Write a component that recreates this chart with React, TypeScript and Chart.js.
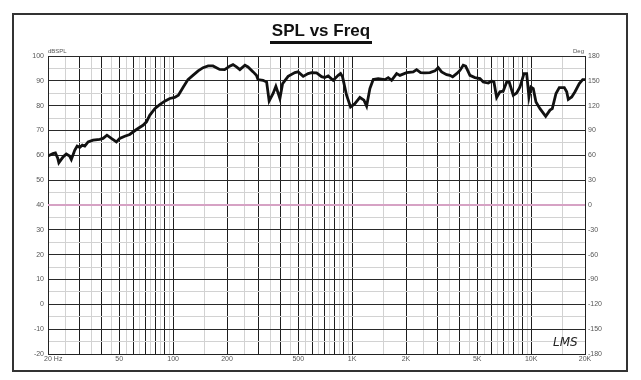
import React, { useEffect, useRef } from "react";
import { Chart, registerables } from "chart.js";
Chart.register(...registerables);

const freqs = [
  20, 21.3, 22, 22.7, 23, 24.3, 25.3, 26.4, 27, 28.2, 29.1, 30.1, 31.1, 32.1, 33.5, 35.7, 38.9, 40.6, 42.7, 45.2,
  48.2, 50.3, 53.7, 57.2, 62.4, 67.9, 71, 74, 79, 84.2, 89.8, 95.8, 102, 107, 114, 121, 129, 138, 147, 157,
  167, 182, 194, 207, 216, 226, 236, 252, 262, 280, 292, 298, 318, 333, 344, 362, 375, 386, 395, 409,
  439, 479, 499, 533, 568, 593, 633, 675, 704, 735, 784, 836, 862, 884, 931, 980, 1036, 1105, 1164, 1205,
  1257, 1312, 1399, 1525, 1591, 1662, 1773, 1849, 2016, 2195, 2292, 2413, 2551, 2721, 2902, 3027, 3162, 3373, 3520, 3645,
  3836, 4001, 4175, 4307, 4554, 4855, 5178, 5402, 5762, 6018, 6198, 6418, 6698, 6988, 7300, 7550, 7948, 8304, 8666, 9122,
  9444, 9728, 9980, 10280, 10644, 11208, 12062, 12750, 13132, 13772, 14370, 15326, 15806, 16134, 16856, 17588, 18588, 19416, 20000,
];
const spl = [
  59.7, 60.7, 61, 58.7, 57, 59.4, 60.5, 59.7, 58.3, 62, 63.7, 63.2, 64.1, 63.7, 65.4, 66.1, 66.4, 66.8, 68.1, 66.8,
  65.4, 66.8, 67.7, 68.4, 70.4, 72.1, 73.5, 76.1, 78.8, 80.4, 81.8, 82.9, 83.3, 84.2, 87.5, 90.5, 92.2, 94, 95.3, 96,
  96, 94.6, 94.5, 95.9, 96.5, 95.6, 94.5, 96.3, 95.6, 93.6, 92.2, 90.5, 90.2, 89.5, 81.9, 84.9, 87.8, 85.1, 82.9, 88.9,
  91.8, 93.3, 93.6, 91.8, 92.9, 93.3, 93.2, 91.7, 91.3, 92, 90.2, 92.2, 92.9, 91.6, 84.2, 79.5, 80.8, 83.3, 82.2, 79.8,
  86.9, 90.5, 90.9, 90.5, 91.3, 90.2, 92.9, 92.2, 93.3, 93.6, 94.5, 93.3, 93.2, 93.3, 94, 95.3, 93.6, 92.5, 92.2, 91.6,
  92.9, 94.2, 96.3, 95.9, 92.2, 91.3, 90.9, 89.5, 89.1, 89.9, 89.5, 83.3, 85.6, 85.9, 89.5, 89.5, 84.2, 85.1, 87.5, 92.9,
  92.9, 83.5, 87.5, 86.9, 81.5, 78.8, 75.7, 78.2, 78.8, 84.9, 87.3, 87.3, 85.6, 82.5, 83.5, 85.6, 88.9, 90.5, 90.5,
];
const refLevel = 40;
const freqLabelValues = [20, 50, 100, 200, 500, 1000, 2000, 5000, 10000, 20000];
const freqLabelTexts = ["20", "50", "100", "200", "500", "1K", "2K", "5K", "10K", "20K"];
const splMin = -20;
const splMax = 100;
const degMin = -180;
const degMax = 180;

const FONT = '"Liberation Sans", Arial, sans-serif';

function gridFreqs(): number[] {
  const out: number[] = [];
  for (let d = 10; d <= 10000; d *= 10) {
    for (let k = 1; k < 10; k++) {
      for (const m of [k, k + 0.5]) {
        const v = m * d;
        if (v >= 20 && v <= 20000) out.push(v);
      }
    }
  }
  return out;
}

function isMajorFreq(v: number): boolean {
  const e = Math.pow(10, Math.floor(Math.log10(v) + 1e-9));
  const m = v / e;
  return Math.abs(m - Math.round(m)) < 1e-6;
}

const decoPlugin = {
  id: "deco",
  afterDraw(chart: any) {
    const ctx = chart.ctx as CanvasRenderingContext2D;
    const xs = chart.scales.x;
    const ca = chart.chartArea;
    ctx.save();
    // frame
    ctx.strokeStyle = "#333";
    ctx.lineWidth = 2;
    ctx.strokeRect(13, 14, 614, 357);
    // title
    ctx.fillStyle = "#111";
    ctx.font = `bold 17px ${FONT}`;
    ctx.textAlign = "center";
    ctx.textBaseline = "alphabetic";
    ctx.fillText("SPL vs Freq", 321, 36);
    ctx.fillRect(270, 41, 102, 3);
    // axis titles
    ctx.font = `6px ${FONT}`;
    ctx.fillStyle = "#555";
    ctx.textBaseline = "middle";
    ctx.textAlign = "left";
    ctx.fillText("dBSPL", ca.left, 51);
    ctx.textAlign = "right";
    ctx.fillText("Deg", ca.right - 1, 51);
    // x labels
    ctx.font = `7px ${FONT}`;
    freqLabelValues.forEach((v, i) => {
      const px = xs.getPixelForValue(v);
      const t = freqLabelTexts[i];
      if (i === 0) {
        const w = ctx.measureText(t).width;
        ctx.textAlign = "left";
        ctx.fillText(t + " Hz", px - w / 2, 359);
      } else {
        ctx.textAlign = "center";
        ctx.fillText(t, px, 359);
      }
    });
    // signature
    ctx.font = `italic 12px "DejaVu Sans", sans-serif`;
    ctx.fillStyle = "#222";
    ctx.textAlign = "left";
    ctx.fillText("LMS", 553, 343);
    ctx.restore();
  },
};

export default function App() {
  const ref = useRef<HTMLCanvasElement | null>(null);
  useEffect(() => {
    if (!ref.current) return;
    const chart = new Chart(ref.current, {
      type: "line",
      data: {
        datasets: [
          {
            data: freqs.map((f, i) => ({ x: f, y: spl[i] })),
            borderColor: "#111",
            borderWidth: 2.8,
            pointRadius: 0,
            tension: 0,
            yAxisID: "y",
          },
          {
            data: [
              { x: 20, y: refLevel },
              { x: 20000, y: refLevel },
            ],
            borderColor: "#d6a2c4",
            borderWidth: 2,
            pointRadius: 0,
            yAxisID: "y",
          },
        ],
      },
      options: {
        animation: false,
        responsive: false,
        devicePixelRatio: 1,
        layout: { padding: { top: 56, left: 0, right: 0, bottom: 0 } },
        plugins: { legend: { display: false }, tooltip: { enabled: false }, title: { display: false } },
        scales: {
          x: {
            type: "logarithmic",
            min: 20,
            max: 20000,
            afterBuildTicks: (s: any) => {
              s.ticks = gridFreqs().map((v) => ({ value: v }));
            },
            afterFit: (s: any) => {
              s.height = 26;
            },
            ticks: { display: false, autoSkip: false, callback: () => "" },
            grid: {
              drawTicks: false,
              color: (c: any) => (c.tick && isMajorFreq(c.tick.value) ? "#1e1e1e" : "#d2d2d2"),
              lineWidth: 1,
            },
            border: { display: true, color: "#222", width: 1 },
          },
          y: {
            type: "linear",
            position: "left",
            min: splMin,
            max: splMax,
            afterFit: (s: any) => {
              s.width = 48;
            },
            ticks: {
              stepSize: 5,
              autoSkip: false,
              padding: 4,
              color: "#555",
              font: { family: FONT, size: 7 },
              callback: (v: any) => (Number(v) % 10 === 0 ? String(v) : ""),
            },
            grid: {
              drawTicks: false,
              color: (c: any) => (c.tick && Number(c.tick.value) % 10 === 0 ? "#2a2a2a" : "#d2d2d2"),
              lineWidth: 1,
            },
            border: { display: true, color: "#222", width: 1 },
          },
          y2: {
            type: "linear",
            position: "right",
            min: degMin,
            max: degMax,
            afterFit: (s: any) => {
              s.width = 56;
            },
            ticks: {
              stepSize: 30,
              autoSkip: false,
              padding: 3,
              color: "#555",
              font: { family: FONT, size: 7 },
            },
            grid: { display: false, drawTicks: false },
            border: { display: true, color: "#222", width: 1 },
          },
        },
      },
      plugins: [decoPlugin],
    } as any);
    return () => chart.destroy();
  }, []);
  return (
    <div style={{ position: "fixed", left: 0, top: 0, width: 641, height: 380, background: "#fff" }}>
      <canvas ref={ref} width={641} height={380} style={{ display: "block", width: 641, height: 380 }} />
    </div>
  );
}
